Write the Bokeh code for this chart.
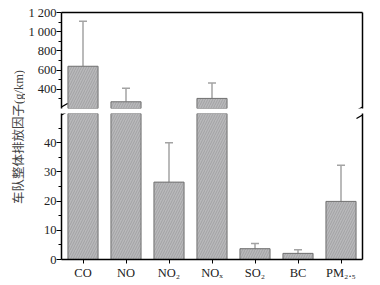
import math
from bokeh.plotting import figure
from bokeh.layouts import row, column
from bokeh.models import (ColumnDataSource, Range1d, FactorRange, LinearAxis,
                          FixedTicker, Whisker, TeeHead, Label, Arrow)
from bokeh.embed import file_html
from bokeh.resources import INLINE

# ---- data ----
categories = ["CO", "NO", "NO₂", "NOₓ", "SO₂", "BC", "PM₂.₅"]
emission = [640, 270, 26.5, 305, 3.7, 2.1, 19.9]      # g/km
std_dev = [470, 140, 13.5, 160, 1.8, 1.2, 12.4]
upper_ticks = [400, 600, 800, 1000, 1200]
upper_minor = [300, 500, 700, 900, 1100]
lower_ticks = [0, 10, 20, 30, 40]
lower_minor = [5, 15, 25, 35, 45]
upper_span = (200, 1200)
lower_span = (0, 50)
y_title = "车队整体排放因子(g/km)"

SERIF = "Liberation Serif"
BAR_FILL = "#b9b9bb"
BAR_LINE = "#707070"
HATCH = "#929294"
ERR = "#a3a3a3"

big = [v > lower_span[1] for v in emission]
src_up = ColumnDataSource(dict(
    cat=[c for c, b in zip(categories, big) if b],
    val=[v for v, b in zip(emission, big) if b],
    hi=[v + s for v, s, b in zip(emission, std_dev, big) if b]))
src_lo = ColumnDataSource(dict(
    cat=categories,
    val=[min(v, lower_span[1]) for v in emission]))
src_err = ColumnDataSource(dict(
    cat=[c for c, b in zip(categories, big) if not b],
    lo=[v - s for v, s, b in zip(emission, std_dev, big) if not b],
    hi=[v + s for v, s, b in zip(emission, std_dev, big) if not b]))

TITLE_W = 25
LEFT = 33
RIGHT = 6
FRAME_W = 304
UP_FRAME_H = 96
LO_FRAME_H = 146
BAR_KW = dict(width=0.7, fill_color=BAR_FILL, line_color=BAR_LINE,
              line_width=1, hatch_pattern="/", hatch_color=HATCH,
              hatch_scale=5, hatch_weight=0.6)


def base_fig(frame_h, yr, top, bottom, xloc):
    p = figure(width=LEFT + FRAME_W + RIGHT, height=top + frame_h + bottom,
               x_range=FactorRange(*categories, range_padding=0),
               y_range=Range1d(*yr), output_backend="svg",
               toolbar_location=None, min_border_left=LEFT,
               min_border_right=RIGHT, min_border_top=top,
               min_border_bottom=bottom, outline_line_color=None,
               x_axis_location=xloc)
    p.grid.visible = False
    return p


def style_y(ax, ticks, minor, overrides=None):
    ax.ticker = FixedTicker(ticks=ticks, minor_ticks=minor)
    ax.axis_line_width = 1.5
    ax.axis_line_color = "black"
    ax.major_tick_line_color = "black"
    ax.minor_tick_line_color = "black"
    ax.major_tick_in = 0
    ax.major_tick_out = 5
    ax.minor_tick_in = 0
    ax.minor_tick_out = 3
    ax.major_label_standoff = 0
    ax.major_label_text_font = SERIF
    ax.major_label_text_font_size = "12.5px"
    ax.major_label_text_color = "#222222"
    if overrides:
        ax.major_label_overrides = overrides


def plain_axis():
    ax = LinearAxis(ticker=FixedTicker(ticks=[]))
    ax.axis_line_width = 1.5
    ax.axis_line_color = "black"
    ax.major_tick_line_color = None
    ax.minor_tick_line_color = None
    ax.major_tick_out = 0
    ax.minor_tick_out = 0
    ax.major_tick_in = 0
    ax.minor_tick_in = 0
    ax.major_label_standoff = 0
    ax.axis_label_standoff = 0
    return ax


def break_mark(p, x, y, px_per_unit, lift):
    # short slanted stroke crossing an axis at the break
    dx, dy = 0.14, 3.5 / px_per_unit
    yc = y + lift / px_per_unit
    p.add_layout(Arrow(end=None, x_start=x - dx, y_start=yc - dy,
                       x_end=x + dx, y_end=yc + dy,
                       line_color="black", line_width=1.2))


up_ppu = UP_FRAME_H / (upper_span[1] - upper_span[0])
lo_ppu = LO_FRAME_H / (lower_span[1] - lower_span[0])

# ---- upper segment ----
up = base_fig(UP_FRAME_H, upper_span, 12, 2, None)
up.vbar(x="cat", top="val", bottom=upper_span[0], source=src_up, **BAR_KW)
style_y(up.yaxis[0], upper_ticks, upper_minor,
        {1000: "1 000", 1200: "1 200"})
up.add_layout(plain_axis(), "above")
up.add_layout(plain_axis(), "right")
up.add_layout(Whisker(source=src_up, base="cat", lower="val", upper="hi",
                      line_color=ERR, line_width=1.5, lower_head=None,
                      upper_head=TeeHead(size=8, line_color=ERR,
                                         line_width=1.5)))
break_mark(up, 0, upper_span[0], up_ppu, 1.5)
break_mark(up, len(categories), upper_span[0], up_ppu, 1.5)

# ---- lower segment ----
lo = base_fig(LO_FRAME_H, lower_span, 3, 23, "below")
lo.vbar(x="cat", top="val", bottom=lower_span[0], source=src_lo, **BAR_KW)
style_y(lo.yaxis[0], lower_ticks, lower_minor)
xa = lo.xaxis[0]
xa.axis_line_width = 1.5
xa.axis_line_color = "black"
xa.major_tick_line_color = "black"
xa.major_tick_in = 0
xa.major_tick_out = 4
xa.major_label_standoff = 2
xa.major_label_text_font = SERIF
xa.major_label_text_font_size = "12.5px"
xa.major_label_text_color = "#222222"
lo.add_layout(plain_axis(), "right")
lo.add_layout(Whisker(source=src_err, base="cat", lower="lo", upper="hi",
                      line_color=ERR, line_width=1.5,
                      lower_head=TeeHead(size=8, line_color=ERR, line_width=1.5),
                      upper_head=TeeHead(size=8, line_color=ERR,
                                         line_width=1.5)))
break_mark(lo, 0, lower_span[1], lo_ppu, -1.5)
break_mark(lo, len(categories), lower_span[1], lo_ppu, -1.5)

# ---- y title ----
TOTAL_H = up.height + lo.height
lab = figure(width=TITLE_W, height=TOTAL_H, x_range=Range1d(0, TITLE_W),
             y_range=Range1d(0, TOTAL_H), output_backend="svg",
             toolbar_location=None, min_border=0, outline_line_color=None)
lab.axis.visible = False
lab.grid.visible = False
lab.add_layout(Label(x=18, y=TOTAL_H - 136.5, text=y_title,
                     angle=math.pi / 2,
                     text_align="center", text_baseline="middle",
                     text_font="Liberation Serif, Noto Sans CJK SC",
                     text_font_size="12.5px", text_color="#444444"))

layout = row(lab, column(up, lo))
open("out.html", "w").write(file_html(layout, INLINE))
